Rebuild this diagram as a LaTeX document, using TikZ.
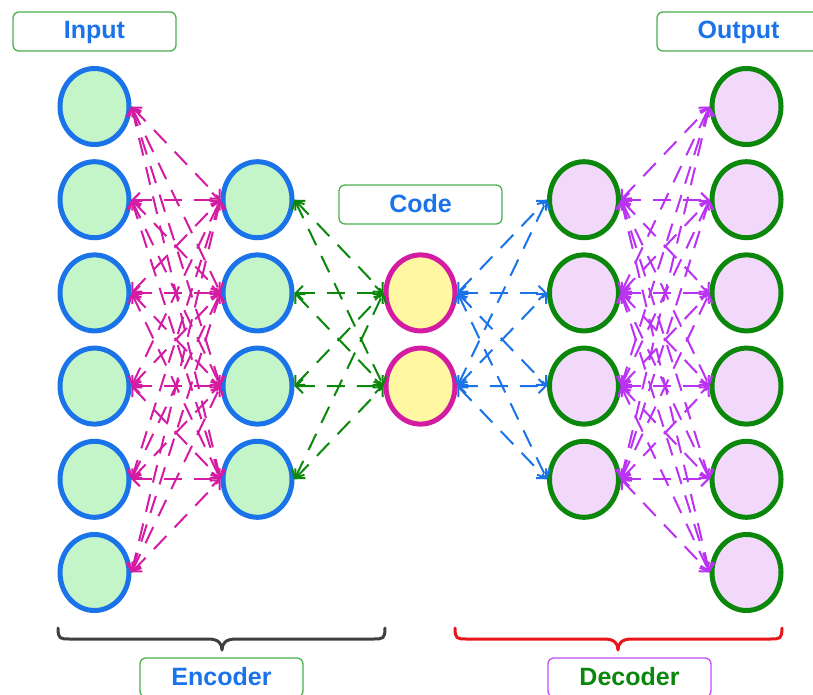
\documentclass[tikz,border=0pt]{standalone}
\usepackage{fontspec}
\setmainfont{Liberation Sans}
\usetikzlibrary{shapes.geometric,arrows.meta}
\definecolor{nblue}{HTML}{1A73E8}
\definecolor{ngreen}{HTML}{C3F5C9}
\definecolor{cmag}{HTML}{D41CA3}
\definecolor{cyellow}{HTML}{FFF7A1}
\definecolor{dgreen}{HTML}{0B870B}
\definecolor{dpurple}{HTML}{F2D9FC}
\definecolor{epurple}{HTML}{BB33F2}
\definecolor{lgreen}{HTML}{4CAF50}
\definecolor{lpurple}{HTML}{C34DF5}
\definecolor{bgray}{HTML}{3C4043}
\definecolor{bred}{HTML}{E8151B}
\begin{document}
\begin{tikzpicture}[x=1pt,y=-1pt,
  neuron/.style={ellipse, minimum width=69pt, minimum height=76pt, line width=5pt, inner sep=0pt},
  inneuron/.style={neuron, draw=nblue, fill=ngreen},
  codeneuron/.style={neuron, draw=cmag, fill=cyellow},
  decneuron/.style={neuron, draw=dgreen, fill=dpurple},
  lbl/.style={draw=lgreen, line width=1.3pt, rounded corners=6pt, fill=white,
    minimum width=163pt, minimum height=39pt, inner sep=0pt,
    font=\fontsize{25}{29}\selectfont\bfseries, text=nblue, text height=18pt, text depth=3pt},
  conn/.style={line width=2pt, dash pattern=on 18pt off 12pt,
    {Straight Barb[length=7pt,width=14pt]}-{Straight Barb[length=7pt,width=14pt]}},
  brace/.style={line width=3pt, line cap=round, line join=round},
]
\useasboundingbox (0,0) rectangle (813,695);
% nodes
\foreach \k in {1,...,6} {
  \node[inneuron] (i\k) at (94.5,{106.5+93.2*(\k-1)}) {};
  \node[decneuron] (o\k) at (746.5,{106.5+93.2*(\k-1)}) {};
}
\foreach \k in {1,...,4} {
  \node[inneuron] (h\k) at (257.5,{199.7+93.2*(\k-1)}) {};
  \node[decneuron] (d\k) at (584,{199.7+93.2*(\k-1)}) {};
}
\node[codeneuron] (c1) at (420.5,292.9) {};
\node[codeneuron] (c2) at (420.5,386.1) {};
% connectors
\foreach \a in {1,...,6} \foreach \b in {1,...,4} {
  \draw[conn, cmag] (i\a.east) -- (h\b.west);
  \draw[conn, epurple] (d\b.east) -- (o\a.west);
}
\foreach \a in {1,...,4} \foreach \b in {1,2} {
  \draw[conn, dgreen] (h\a.east) -- (c\b.west);
  \draw[conn, nblue] (c\b.east) -- (d\a.west);
}
% labels
\node[lbl] (lin) at (94.5,31.5) {Input};
\node[lbl] (lout) at (738.5,31.5) {Output};
\node[lbl] (lcode) at (420.5,204.5) {Code};
\node[lbl] (lenc) at (221.5,677.5) {Encoder};
\node[lbl, draw=lpurple, text=dgreen] (ldec) at (629.5,677.5) {Decoder};
% braces
\draw[brace, bgray] (58,628) .. controls (58,639) and (60,639) .. (70,639) -- (208,639)
  .. controls (218,639) and (222,643) .. (222,650)
  .. controls (222,643) and (226,639) .. (236,639) -- (373,639)
  .. controls (383,639) and (385,639) .. (385,628);
\draw[brace, bred] (455,628) .. controls (455,639) and (457,639) .. (467,639) -- (604,639)
  .. controls (614,639) and (618,643) .. (618,650)
  .. controls (618,643) and (622,639) .. (632,639) -- (770,639)
  .. controls (780,639) and (782,639) .. (782,628);
\end{tikzpicture}
\end{document}
